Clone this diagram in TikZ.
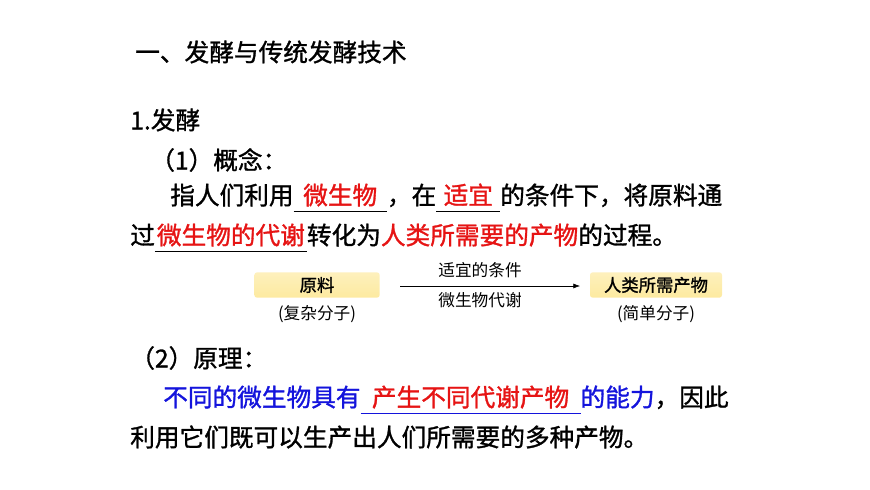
\documentclass[tikz,border=0pt]{standalone}
\usepackage{fontspec}
\usetikzlibrary{arrows.meta}
\setmainfont{Noto Sans CJK SC}[FakeBold=1.2]
\newfontfamily\cjkb{Noto Sans CJK SC}[FakeBold=1.2]
\newfontfamily\cjkn{Noto Sans CJK SC}
\definecolor{fillred}{RGB}{230,20,20}
\definecolor{fillblue}{RGB}{20,20,220}
\definecolor{boxfill}{RGB}{253,234,160}
\newcommand\blank[3]{\leavevmode\rlap{\raisebox{-6pt}{\color{#3}\rule{#1}{0.7pt}}}\makebox[#1]{\color{fillred}#2}}
\begin{document}
\begin{tikzpicture}[x=0.75pt,y=-0.75pt,
  txt/.style={anchor=west,inner sep=0pt,font=\cjkb\fontsize{18.5}{21}\selectfont},
  small/.style={inner sep=0pt,font=\cjkn\fontsize{12.5}{14}\selectfont},
  ybox/.style={draw=none,top color=boxfill!70!white,bottom color=boxfill,rounded corners=2pt,minimum height=19pt,inner sep=0pt,font=\cjkb\fontsize{13}{15}\selectfont}]
\useasboundingbox (0,0) rectangle (870,489);
\node[txt] (t0) at (135,52) {一、发酵与传统发酵技术};
\node[txt] (t1) at (130,120) {1.发酵};
\node[txt] (t2) at (150,160) {（1）概念：};
\node[txt] (t3) at (170,198) {指人们利用\blank{70pt}{微生物}{black}，在\blank{48pt}{适宜}{black}的条件下，将原料通};
\node[txt] (t4) at (130,238) {过\blank{114pt}{微生物的代谢}{black}转化为\textcolor{fillred}{人类所需要的产物}的过程。};
\node[ybox,minimum width=94pt] (a) at (317,285) {原料};
\node[ybox,minimum width=99pt] (b) at (656,285) {人类所需产物};
\node[small] (a2) at (317,314) {(复杂分子)};
\node[small] (b2) at (656,314) {(简单分子)};
\coordinate (s) at (400,286);
\coordinate (e) at (580,286);
\draw[-{Latex[length=5pt]},thin] (s) -- (e);
\node[small] (l1) at (480,270) {适宜的条件};
\node[small] (l2) at (480,300) {微生物代谢};
\node[txt] (t5) at (130,358) {（2）原理：};
\node[txt] (t6) at (163,400) {\textcolor{fillblue}{不同的微生物具有}\blank{165pt}{产生不同代谢产物}{fillblue}\textcolor{fillblue}{的能力}，因此};
\node[txt] (t7) at (130,437) {利用它们既可以生产出人们所需要的多种产物。};
\end{tikzpicture}
\end{document}
